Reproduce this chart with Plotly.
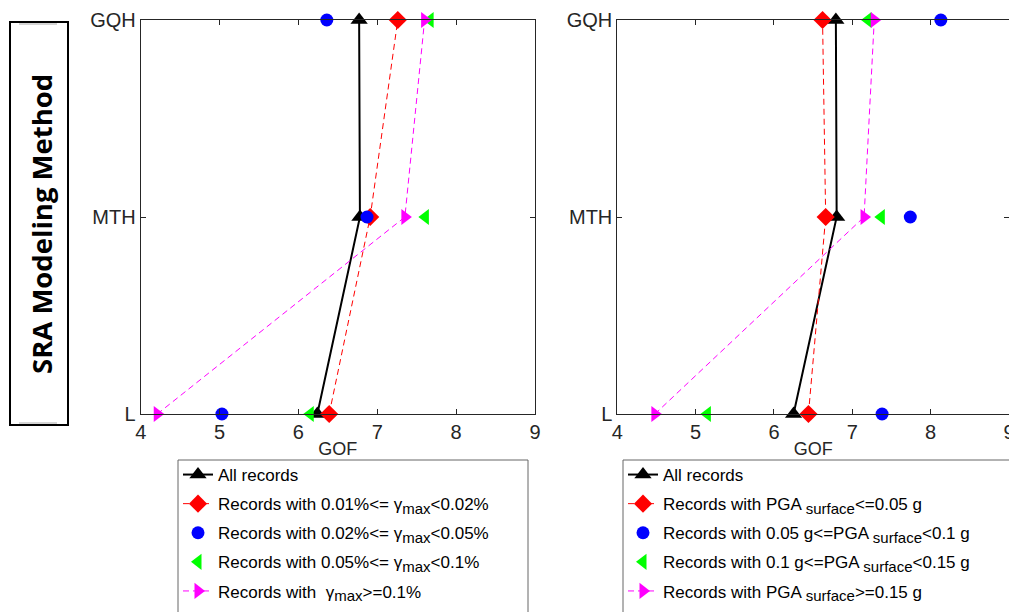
import plotly.graph_objects as go

W, H = 1009, 612

methods = ["L", "MTH", "GQH"]

# Left panel (gamma_max groups)
left_all = [6.24, 6.78, 6.77]
left_g1 = [6.39, 6.91, 7.26]   # 0.01%<= gmax <0.02%
left_g2 = [5.03, 6.87, 6.36]   # 0.02%<= gmax <0.05%
left_g3 = [6.15, 7.61, 7.67]   # 0.05%<= gmax <0.1%
left_g4 = [4.21, 7.35, 7.60]   # gmax >=0.1%

# Right panel (PGA surface groups)
right_all = [6.25, 6.80, 6.79]
right_p1 = [6.44, 6.66, 6.62]  # PGA <=0.05 g
right_p2 = [7.38, 7.74, 8.13]  # 0.05<=PGA<0.1
right_p3 = [5.15, 7.37, 7.20]  # 0.1<=PGA<0.15
right_p4 = [4.48, 7.15, 7.28]  # PGA>=0.15

SUB = '<sub><span style="font-size:15px">{}</span></sub>'
left_names = [
    "All records",
    "Records with 0.01%&lt;= γ" + SUB.format("max") + "&lt;0.02%",
    "Records with 0.02%&lt;= γ" + SUB.format("max") + "&lt;0.05%",
    "Records with 0.05%&lt;= γ" + SUB.format("max") + "&lt;0.1%",
    "Records with &nbsp;γ" + SUB.format("max") + "&gt;=0.1%",
]
right_names = [
    "All records",
    "Records with PGA " + SUB.format("surface") + "&lt;=0.05 g",
    "Records with 0.05 g&lt;=PGA " + SUB.format("surface") + "&lt;0.1 g",
    "Records with 0.1 g&lt;=PGA " + SUB.format("surface") + "&lt;0.15 g",
    "Records with PGA " + SUB.format("surface") + "&gt;=0.15 g",
]
x_ticks = [4, 5, 6, 7, 8, 9]

AX = "#262626"
FONT = "Liberation Sans, Arial, sans-serif"

fig = go.Figure()

def add_panel(series, names, xa, ya, leg, tag):
    styles = [
        dict(mode="lines+markers", line=dict(color="black", width=2),
             marker=dict(symbol="triangle-up", size=15, color="black")),
        dict(mode="lines+markers", line=dict(color="#FF0000", width=1, dash="6px,4px"),
             marker=dict(symbol="diamond", size=14, color="#FF0000")),
        dict(mode="markers", marker=dict(symbol="circle", size=13, color="#0000FF")),
        dict(mode="markers", marker=dict(symbol="triangle-left", size=14, color="#00FF00")),
        dict(mode="lines+markers", line=dict(color="#FF00FF", width=1, dash="6px,4px"),
             marker=dict(symbol="triangle-right", size=14, color="#FF00FF")),
    ]
    for i, (vals, name, st) in enumerate(zip(series, names, styles)):
        fig.add_trace(go.Scatter(x=vals, y=methods, name=name, xaxis=xa, yaxis=ya,
                                 legend=leg, legendgroup=f"{tag}{i}",
                                 cliponaxis=False, **st))

add_panel([left_all, left_g1, left_g2, left_g3, left_g4], left_names, "x", "y", "legend", "a")
add_panel([right_all, right_p1, right_p2, right_p3, right_p4], right_names, "x2", "y2", "legend2", "b")

ydom = [1 - 414 / H, 1 - 20 / H]
common_x = dict(range=[4, 9], tickvals=x_ticks, ticks="inside", ticklen=5, tickcolor=AX,
                showline=True, linecolor=AX, linewidth=1, mirror="ticks",
                showgrid=False, zeroline=False, automargin=False,
                ticklabeloverflow="allow",
                tickfont=dict(size=20, color=AX, family=FONT),
                title=dict(text="GOF", font=dict(size=18, color=AX, family=FONT), standoff=0))
common_y = dict(type="category", categoryorder="array", categoryarray=methods,
                range=[0, 2], ticks="inside", ticklen=5, tickcolor=AX,
                showline=True, linecolor=AX, linewidth=1, mirror="ticks",
                showgrid=False, zeroline=False, automargin=False,
                tickfont=dict(size=20, color=AX, family=FONT), domain=ydom)

legend_common = dict(xanchor="left", yanchor="top", borderwidth=0,
                     bgcolor="rgba(0,0,0,0)", tracegroupgap=4,
                     font=dict(size=17, color="black", family=FONT))

fig.update_layout(
    width=W, height=H,
    margin=dict(l=0, r=0, t=0, b=0, autoexpand=False),
    paper_bgcolor="white", plot_bgcolor="white",
    xaxis=dict(domain=[140.7 / W, 535 / W], anchor="y", **common_x),
    yaxis=dict(anchor="x", **common_y),
    xaxis2=dict(domain=[617.3 / W, 1.0], anchor="y2", **common_x),
    yaxis2=dict(anchor="x2", **common_y),
    legend=dict(x=178 / W, y=1 - 457 / H, **legend_common),
    legend2=dict(x=623 / W, y=1 - 457 / H, **legend_common),
    shapes=[
        dict(type="rect", xref="paper", yref="paper",
             x0=10 / W, x1=68 / W, y0=1 - 425 / H, y1=1 - 22 / H,
             line=dict(color="black", width=2), fillcolor="rgba(0,0,0,0)"),
        dict(type="line", xref="paper", yref="paper",
             x0=19 / W, x1=57 / W, y0=1 - 24 / H, y1=1 - 24 / H,
             line=dict(color="#aaaaaa", width=1)),
        dict(type="line", xref="paper", yref="paper",
             x0=19 / W, x1=57 / W, y0=1 - 423 / H, y1=1 - 423 / H,
             line=dict(color="#aaaaaa", width=1)),
        dict(type="rect", xref="paper", yref="paper",
             x0=178 / W, x1=528 / W, y0=-0.05, y1=1 - 460 / H,
             line=dict(color="#666666", width=1), fillcolor="rgba(0,0,0,0)"),
        dict(type="rect", xref="paper", yref="paper",
             x0=623 / W, x1=1.05, y0=-0.05, y1=1 - 460 / H,
             line=dict(color="#666666", width=1), fillcolor="rgba(0,0,0,0)"),
    ],
    annotations=[
        dict(text="<b>SRA Modeling Method</b>", xref="paper", yref="paper",
             x=41 / W, y=1 - 224 / H, xanchor="center", yanchor="middle",
             textangle=-90, showarrow=False,
             font=dict(size=27.5, color="black", family="Open Sans, sans-serif")),
    ],
)

fig.write_html("out.html")
